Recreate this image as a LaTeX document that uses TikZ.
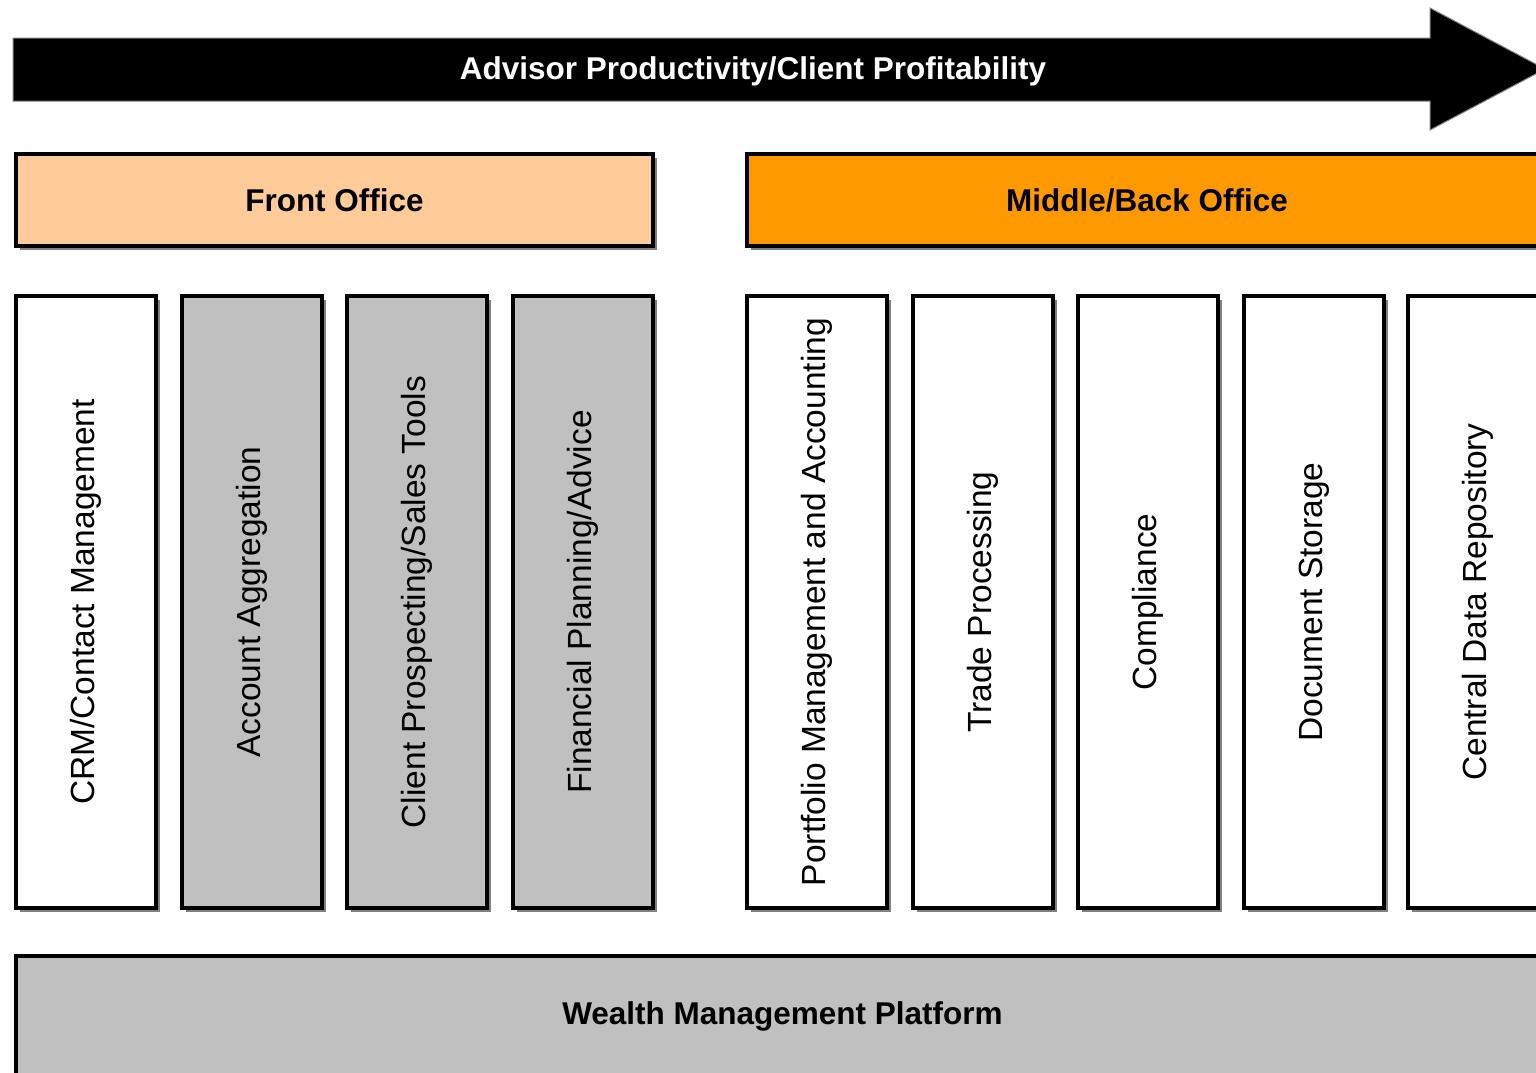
\documentclass[tikz,border=0pt]{standalone}
\usepackage{fontspec}
\setmainfont{Liberation Sans}
\usetikzlibrary{shadows}
\definecolor{frontc}{HTML}{FFCC99}
\definecolor{backc}{HTML}{FF9900}
\definecolor{grayc}{HTML}{C0C0C0}
\definecolor{shadc}{HTML}{808080}
\begin{document}
\begin{tikzpicture}[x=1pt,y=-1pt,
  shad/.style={drop shadow={shadow xshift=4pt,shadow yshift=-4pt,fill=shadc,opacity=1}},
  box/.style={draw=black,line width=4pt,rectangle,inner sep=0pt,shad},
  head/.style={box,minimum height=92pt,font=\fontsize{31.5}{36}\selectfont\bfseries},
  col/.style={box,minimum width=140pt,minimum height=612pt,font=\fontsize{33.5}{38}\selectfont},
  lbl/.style={rotate=90,inner sep=0pt,font=\fontsize{33.5}{38}\selectfont}]
\clip (0,0) rectangle (1536,1072);
\fill[white] (0,0) rectangle (1536,1072);
% top arrow
\draw[draw=shadc,line width=1pt,fill=black] (13,38) -- (1430,38) -- (1430,8) -- (1545,69) -- (1430,130) -- (1430,101) -- (13,101) -- cycle;
\node[text=white,font=\fontsize{31.5}{36}\selectfont\bfseries] (arrowtxt) at (753,71) {Advisor Productivity/Client Profitability};
% headers
\node[head,fill=frontc,minimum width=637pt] (front) at (334.5,200) {Front Office};
\node[head,fill=backc,minimum width=800pt] (back) at (1147,200) {Middle/Back Office};
% columns
\node[col,fill=white] (c1) at (86,602) {};
\node[lbl] (t1) at (c1.center) {CRM/Contact Management};
\node[col,fill=grayc] (c2) at (252,602) {};
\node[lbl] (t2) at (c2.center) {Account Aggregation};
\node[col,fill=grayc] (c3) at (417,602) {};
\node[lbl] (t3) at (c3.center) {Client Prospecting/Sales Tools};
\node[col,fill=grayc] (c4) at (583,602) {};
\node[lbl] (t4) at (c4.center) {Financial Planning/Advice};
\node[col,fill=white] (c5) at (817,602) {};
\node[lbl] (t5) at (c5.center) {Portfolio Management and Accounting};
\node[col,fill=white] (c6) at (983,602) {};
\node[lbl] (t6) at (c6.center) {Trade Processing};
\node[col,fill=white] (c7) at (1148,602) {};
\node[lbl] (t7) at (c7.center) {Compliance};
\node[col,fill=white] (c8) at (1314,602) {};
\node[lbl] (t8) at (c8.center) {Document Storage};
\node[col,fill=white] (c9) at (1478,602) {};
\node[lbl] (t9) at (c9.center) {Central Data Repository};
% platform
\node[box,fill=grayc,minimum width=1533pt,minimum height=121pt,font=\fontsize{31.5}{36}\selectfont\bfseries] (platform) at (782.5,1016.5) {Wealth Management Platform};
\end{tikzpicture}
\end{document}
